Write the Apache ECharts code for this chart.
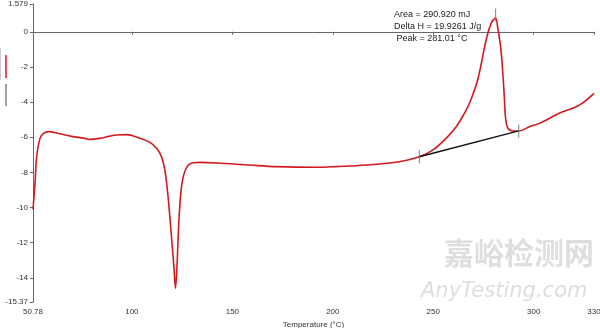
<!DOCTYPE html>
<html>
<head>
<meta charset="utf-8">
<script src="https://cdn.jsdelivr.net/npm/echarts@6/dist/echarts.min.js"></script>
<style>
  html, body { margin: 0; padding: 0; background: #fff; }
  #dsc { width: 600px; height: 328px; }
</style>
</head>
<body>
<div id="dsc"></div>
<script>
// DSC scan, temperature (°C) vs heat flow (mW)
var temps = [50.78, 51.8, 52.6, 54.3, 55.9, 58.4, 64.2, 70, 76, 79.1, 84.1, 88.5, 92.4, 97.4,
    104.0, 109.0, 112.3, 114.7, 116.4, 118.0, 119.7, 120.9, 121.7, 122.5, 123.5, 124.7, 126.3,
    128.8, 133.8, 142.1, 158.6, 171.9, 191.8, 201.7, 216.6, 233.2, 243.1, 249.7, 256.4, 261.4,
    265.5, 268.0, 272.1, 276.3, 278.8, 281.0, 282.0, 283.7, 284.7, 285.4, 285.9, 287.0, 289.5,
    292.8, 297.8, 302.8, 312.7, 322.7, 330];
var heatFlow = [-10.1, -8.6, -7.1, -6.05, -5.8, -5.68, -5.8, -5.95, -6.05, -6.12, -6.06, -5.95, -5.87, -5.85,
    -6.06, -6.29, -6.63, -7.1, -7.86, -9.38, -11.66, -13.36, -14.6, -13.15, -10.52, -8.81, -7.96,
    -7.52, -7.43, -7.46, -7.58, -7.67, -7.71, -7.67, -7.58, -7.39, -7.11, -6.73, -6.06, -5.4,
    -4.64, -4.07, -2.74, -0.47, 0.48, 0.78, 0.29, -1.04, -2.5, -3.8, -4.8, -5.45, -5.64,
    -5.64, -5.4, -5.21, -4.64, -4.17, -3.5];

// integration baseline and the cursor marks
var baseT = [243.1, 292.5];
var baseY = [-7.11, -5.64];
var markT = [243.1, 292.5, 281.0];
var markY = [-7.11, -5.64, 0.95];

var xTicks = [50.78, 100, 150, 200, 250, 300, 330];
var yTicks = [-15.37, -14, -12, -10, -8, -6, -4, -2, 0, 1.579];

var resultLines = ['Area = 290.920 mJ', 'Delta H = 19.9261 J/g', ' Peak = 281.01 \u00b0C'];

function pairs(xs, ys) {
    return xs.map(function (x, i) { return [x, ys[i]]; });
}

var chart = echarts.init(document.getElementById('dsc'));
var font = 'Liberation Sans, Arial, sans-serif';

var option = {
    animation: false,
    backgroundColor: '#fff',
    grid: { left: 33, right: 6, top: 4, bottom: 26, outerBoundsMode: 'none', containLabel: false },
    xAxis: {
        type: 'value',
        min: 50.78,
        max: 330,
        name: 'Temperature (\u00b0C)',
        nameLocation: 'middle',
        nameGap: 16,
        nameTextStyle: { color: '#333', fontSize: 8, fontFamily: font },
        axisLine: { lineStyle: { color: '#666', width: 1 } },
        axisTick: { show: true, length: 3, customValues: xTicks, lineStyle: { color: '#666' } },
        axisLabel: {
            customValues: xTicks, color: '#333', fontSize: 8, fontFamily: font, margin: 6,
            formatter: function (v) { return String(v); }
        },
        splitLine: { show: false }
    },
    yAxis: {
        type: 'value',
        min: -15.37,
        max: 1.579,
        name: 'Heat Flow Endo Up (mW)',
        nameLocation: 'middle',
        nameGap: 23,
        nameTextStyle: { color: '#333', fontSize: 8, fontFamily: font },
        axisLine: { show: true, lineStyle: { color: '#666', width: 1 } },
        axisTick: { show: true, length: 3, customValues: yTicks, lineStyle: { color: '#666' } },
        axisLabel: {
            customValues: yTicks, color: '#333', fontSize: 8, fontFamily: font, margin: 5,
            formatter: function (v) { return String(v); }
        },
        splitLine: { show: false }
    },
    series: [
        {
            name: 'heat flow',
            type: 'line',
            data: pairs(temps, heatFlow),
            showSymbol: false,
            smooth: 0.35,
            lineStyle: { color: '#d41a1f', width: 1.6 },
            z: 3
        },
        {
            name: 'baseline',
            type: 'line',
            data: pairs(baseT, baseY),
            showSymbol: false,
            lineStyle: { color: '#111', width: 1.4 },
            z: 4
        },
        {
            name: 'marks',
            type: 'scatter',
            data: pairs(markT, markY),
            symbol: 'rect',
            symbolSize: [1.2, 13],
            itemStyle: { color: '#777' },
            z: 5
        }
    ],
    graphic: [
        {   // watermark
            type: 'text', left: 444, top: 238, z: 0, silent: true,
            style: { text: '嘉峪检测网', fontSize: 30, fontWeight: 'bold', fill: 'rgba(190,190,190,0.5)',
                     fontFamily: 'Noto Sans CJK SC' }
        },
        {
            type: 'text', left: 421, top: 281, z: 0, silent: true,
            style: { text: 'AnyTesting.com', fontSize: 21, fontStyle: 'italic', fill: 'rgba(190,190,190,0.5)',
                     fontFamily: 'DejaVu Sans' }
        },
        {
            type: 'text', left: 394, top: 9, z: 10,
            style: { text: resultLines.join('\n'), fontSize: 9, lineHeight: 12, fill: '#222', fontFamily: font }
        },
        // stub of the legend strip at the left edge
        { type: 'line', shape: { x1: 6, y1: 55, x2: 6, y2: 78 }, style: { stroke: '#d41a1f', lineWidth: 1.5 } },
        { type: 'line', shape: { x1: 6, y1: 84, x2: 6, y2: 106 }, style: { stroke: '#444', lineWidth: 1 } },
        { type: 'line', shape: { x1: 0.5, y1: 48, x2: 0.5, y2: 80 }, style: { stroke: '#ccc', lineWidth: 1 } }
    ]
};
chart.setOption(option);
</script>
</body>
</html>
